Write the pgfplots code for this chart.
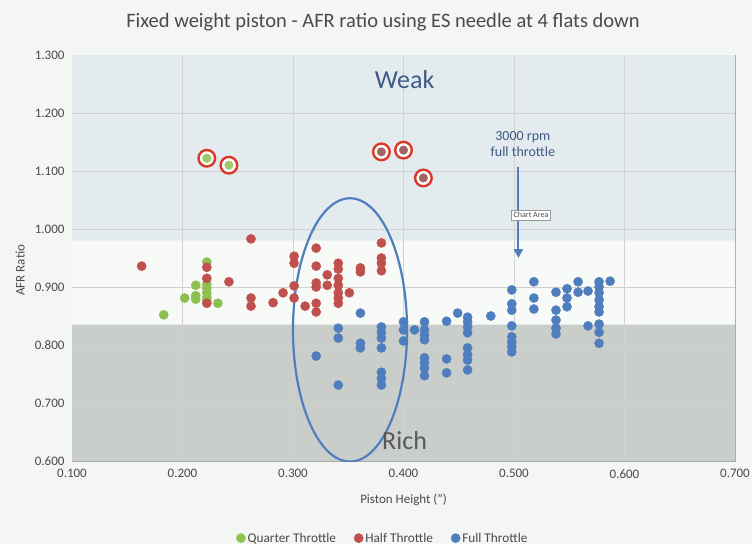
\documentclass[border=0pt]{standalone}
\usepackage{pgfplots}
\pgfplotsset{compat=1.18}
\usepackage{fontspec}
\setmainfont{Carlito}
\usetikzlibrary{arrows.meta}
\definecolor{bgcol}{HTML}{F3F6F2}
\definecolor{weakband}{HTML}{E4EBEE}
\definecolor{midband}{HTML}{F8FAF7}
\definecolor{richband}{HTML}{CACECA}
\definecolor{qgreen}{HTML}{8DC04E}
\definecolor{hred}{HTML}{C0504D}
\definecolor{fblue}{HTML}{4F7EBE}
\definecolor{ringred}{HTML}{D9392B}
\definecolor{txtgray}{HTML}{4A4A4A}
\definecolor{annblue}{HTML}{3E5A86}
\begin{document}
\begin{tikzpicture}
\fill[bgcol] (0,0) rectangle (752pt,544pt);
\node[font=\fontsize{20.5}{24}\selectfont, text=txtgray] at (383pt,522pt) {Fixed weight piston - AFR ratio using ES needle at 4 flats down};
\begin{axis}[
  at={(72pt,83pt)}, anchor=south west,
  scale only axis, width=663pt, height=406pt,
  xmin=0.1, xmax=0.7, ymin=0.6, ymax=1.3,
  xtick={0.1,0.2,0.3,0.4,0.5,0.6,0.7},
  ytick={0.6,0.7,0.8,0.9,1.0,1.1,1.2,1.3},
  /pgf/number format/assume math mode=true,
  /pgf/number format/fixed,
  /pgf/number format/fixed zerofill,
  /pgf/number format/precision=3,
  ticklabel style={font=\fontsize{13}{15}\selectfont, text=txtgray},
  xticklabel style={yshift=-5pt},
  yticklabel style={xshift=-4pt},
  major tick length=0pt,
  axis line style={draw=black!35, line width=0.6pt},
  xlabel={Piston Height (")},
  ylabel={AFR Ratio},
  label style={font=\fontsize{13}{15}\selectfont, text=txtgray},
  xlabel style={at={(axis description cs:0.5,-0.096)}, anchor=center},
  ylabel style={at={(axis description cs:-0.078,0.47)}, anchor=center},
  legend style={draw=none, fill=none, at={(axis description cs:0.469,-0.19)}, anchor=center,
    legend columns=3, font=\fontsize{13.3}{15}\selectfont, text=txtgray,
    /tikz/every even column/.append style={column sep=16pt}},
  legend cell align=left,
]
\addplot[forget plot, fill=weakband, draw=none] coordinates {(0.1,0.98) (0.7,0.98) (0.7,1.3) (0.1,1.3) (0.1,0.98)};
\addplot[forget plot, fill=midband, draw=none] coordinates {(0.1,0.835) (0.7,0.835) (0.7,0.98) (0.1,0.98) (0.1,0.835)};
\addplot[forget plot, fill=richband, draw=none] coordinates {(0.1,0.6) (0.7,0.6) (0.7,0.835) (0.1,0.835) (0.1,0.6)};
\pgfplotsinvokeforeach{0.2,0.3,0.4,0.5,0.6}{
  \draw[black!18, line width=0.6pt] (axis cs:#1,0.6) -- (axis cs:#1,1.3);
}
\pgfplotsinvokeforeach{0.7,0.8,0.9,1.0,1.1,1.2}{
  \draw[black!18, line width=0.6pt] (axis cs:0.1,#1) -- (axis cs:0.7,#1);
}

\addplot[only marks, mark=*, mark size=4.6pt, mark options={draw=qgreen, fill=qgreen}] coordinates {
(0.183,0.852) (0.202,0.881) (0.212,0.903) (0.212,0.885) (0.212,0.879)
(0.222,0.943) (0.222,0.905) (0.222,0.898) (0.222,0.890) (0.222,0.882) (0.222,0.876)
(0.232,0.872)
};
\addlegendentry{Quarter Throttle}

\addplot[only marks, mark=*, mark size=4.6pt, mark options={draw=hred, fill=hred}] coordinates {
(0.163,0.936) (0.222,0.934) (0.222,0.915) (0.222,0.872) (0.242,0.909)
(0.262,0.983) (0.262,0.881) (0.262,0.867) (0.282,0.873) (0.291,0.890)
(0.301,0.953) (0.301,0.941) (0.301,0.902) (0.301,0.881) (0.311,0.867)
(0.321,0.967) (0.321,0.936) (0.321,0.907) (0.321,0.900) (0.321,0.872) (0.321,0.857)
(0.331,0.921) (0.331,0.903)
(0.341,0.941) (0.341,0.931) (0.341,0.915) (0.341,0.903) (0.341,0.890) (0.341,0.881) (0.341,0.872)
(0.351,0.890) (0.361,0.933) (0.361,0.926)
(0.380,0.976) (0.380,0.950) (0.380,0.941) (0.380,0.928)
};
\addlegendentry{Half Throttle}

\addplot[only marks, mark=*, mark size=4.6pt, mark options={draw=fblue, fill=fblue}] coordinates {
(0.321,0.781) (0.341,0.829) (0.341,0.812) (0.341,0.731)
(0.361,0.855) (0.361,0.803) (0.361,0.795)
(0.380,0.831) (0.380,0.822) (0.380,0.812) (0.380,0.795) (0.380,0.753) (0.380,0.742) (0.380,0.731)
(0.400,0.840) (0.400,0.826) (0.400,0.807) (0.410,0.826)
(0.419,0.840) (0.419,0.826) (0.419,0.817) (0.419,0.809) (0.419,0.778) (0.419,0.769) (0.419,0.760) (0.419,0.747)
(0.439,0.841) (0.439,0.776) (0.439,0.752) (0.449,0.855)
(0.458,0.848) (0.458,0.840) (0.458,0.831) (0.458,0.821) (0.458,0.795) (0.458,0.783) (0.458,0.774) (0.458,0.757)
(0.479,0.850)
(0.498,0.895) (0.498,0.871) (0.498,0.860) (0.498,0.833) (0.498,0.814) (0.498,0.805) (0.498,0.797) (0.498,0.788)
(0.518,0.909) (0.518,0.881) (0.518,0.862)
(0.538,0.891) (0.538,0.860) (0.538,0.843) (0.538,0.829) (0.538,0.819)
(0.548,0.897) (0.548,0.881) (0.548,0.866)
(0.558,0.909) (0.558,0.891) (0.567,0.893) (0.567,0.833)
(0.577,0.909) (0.577,0.900) (0.577,0.890) (0.577,0.878) (0.577,0.866) (0.577,0.857) (0.577,0.836) (0.577,0.822) (0.577,0.803)
(0.587,0.910)
};
\addlegendentry{Full Throttle}

\addplot[forget plot, only marks, mark=*, mark size=8.3pt, mark options={draw=ringred, fill=white, line width=2.4pt}] coordinates {
(0.222,1.122) (0.242,1.110) (0.380,1.133) (0.400,1.136) (0.418,1.088)
};
\addplot[forget plot, only marks, mark=*, mark size=4.3pt, mark options={draw=qgreen!85!white, fill=qgreen!85!white}] coordinates {
(0.222,1.122) (0.242,1.110)
};
\addplot[forget plot, only marks, mark=*, mark size=4.3pt, mark options={draw=hred!55!gray, fill=hred!55!gray}] coordinates {
(0.380,1.133) (0.400,1.136) (0.418,1.088)
};

\draw[fblue, line width=2.2pt] (axis cs:0.3516,0.826) ellipse [x radius=0.0516, y radius=0.227];
\draw[fblue, line width=2pt, -{Triangle[length=9pt,width=9pt]}] (axis cs:0.504,1.107) -- (axis cs:0.504,0.950);
\node[font=\fontsize{14}{16}\selectfont, text=annblue, align=center] at (axis cs:0.508,1.146) {3000 rpm\\full throttle};
\node[font=\fontsize{8}{9}\selectfont, text=txtgray, draw=black!40, fill=white, inner sep=2pt] at (axis cs:0.5154,1.024) {Chart Area};
\node[font=\fontsize{26}{30}\selectfont, text=annblue] at (axis cs:0.401,1.257) {Weak};
\node[font=\fontsize{26}{30}\selectfont, text=black!65] at (axis cs:0.401,0.636) {Rich};
\end{axis}
\pgfresetboundingbox
\path[use as bounding box] (0,0) rectangle (752pt,544pt);
\end{tikzpicture}
\end{document}
